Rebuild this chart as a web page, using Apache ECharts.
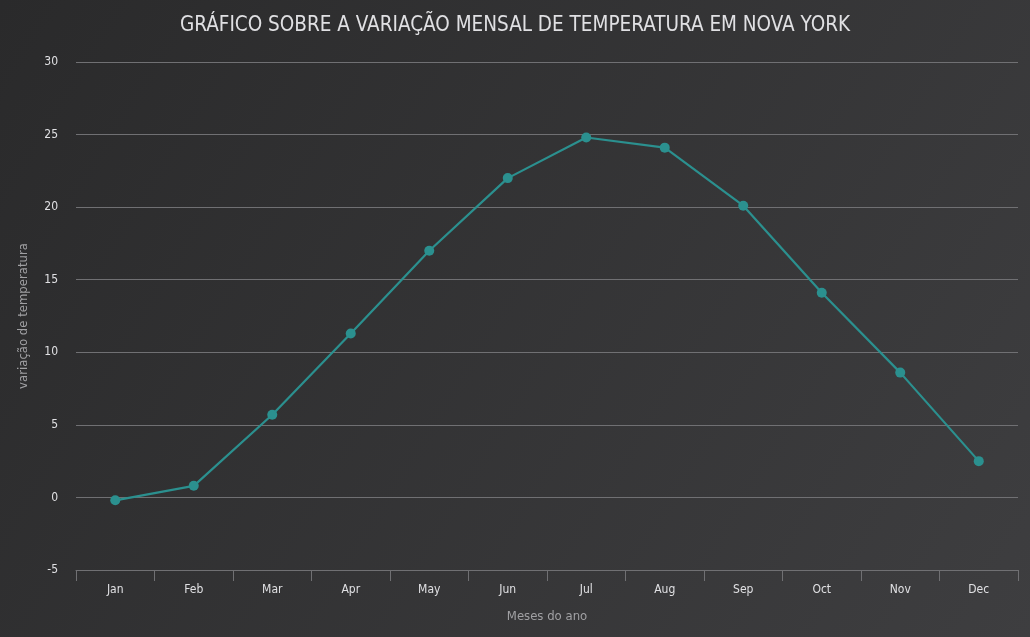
<!DOCTYPE html>
<html>
<head>
<meta charset="utf-8">
<script src="https://cdn.jsdelivr.net/npm/echarts@6/dist/echarts.min.js"></script>
<style>
html,body{margin:0;padding:0;background:#2a2a2b;}
#chart{width:1030px;height:637px;}
</style>
</head>
<body>
<div id="chart"></div>
<script>
const titleText = 'GRÁFICO SOBRE A VARIAÇÃO MENSAL DE TEMPERATURA EM NOVA YORK';
const months = ['Jan','Feb','Mar','Apr','May','Jun','Jul','Aug','Sep','Oct','Nov','Dec'];
const temperatures = [-0.2, 0.8, 5.7, 11.3, 17.0, 22.0, 24.8, 24.1, 20.1, 14.1, 8.6, 2.5];
const yAxisTitle = 'variação de temperatura';
const xAxisTitle = 'Meses do ano';

const chart = echarts.init(document.getElementById('chart'), null, {renderer:'canvas'});
const font = '"DejaVu Sans Condensed", "Liberation Sans Narrow", sans-serif';
chart.setOption({
  backgroundColor: new echarts.graphic.LinearGradient(0,0,1,1,[
    {offset:0,color:'#2a2a2b'},{offset:1,color:'#3e3e40'}
  ]),
  animation:false,
  title:{
    text:titleText, left:'center', top:10,
    textStyle:{color:'#E0E0E3', fontSize:20.5, fontWeight:'normal', fontFamily:font}
  },
  grid:{left:76, right:12, top:62, bottom:67, containLabel:false},
  xAxis:{
    type:'category', data:months, boundaryGap:true,
    name:xAxisTitle, nameLocation:'middle', nameGap:40,
    nameTextStyle:{color:'#A0A0A3', fontSize:13, fontFamily:font},
    axisLine:{show:true, onZero:false, lineStyle:{color:'#707073', width:1}},
    axisTick:{show:true, length:11, alignWithLabel:false, lineStyle:{color:'#707073'}},
    axisLabel:{color:'#E0E0E3', fontSize:12, fontFamily:font, margin:14},
    splitLine:{show:false}
  },
  yAxis:{
    type:'value', min:-5, max:30, interval:5,
    name:yAxisTitle, nameLocation:'middle', nameGap:46, nameRotate:90,
    nameTextStyle:{color:'#A0A0A3', fontSize:13, fontFamily:font},
    axisLine:{show:false}, axisTick:{show:false},
    axisLabel:{color:'#E0E0E3', fontSize:12, fontFamily:font, margin:18},
    splitLine:{show:true, lineStyle:{color:'#707073', width:1}}
  },
  series:[{
    type:'line', data:temperatures,
    symbol:'circle', symbolSize:10,
    itemStyle:{color:'#2b908f'},
    lineStyle:{color:'#2b908f', width:2.2}
  }]
});
</script>
</body>
</html>
